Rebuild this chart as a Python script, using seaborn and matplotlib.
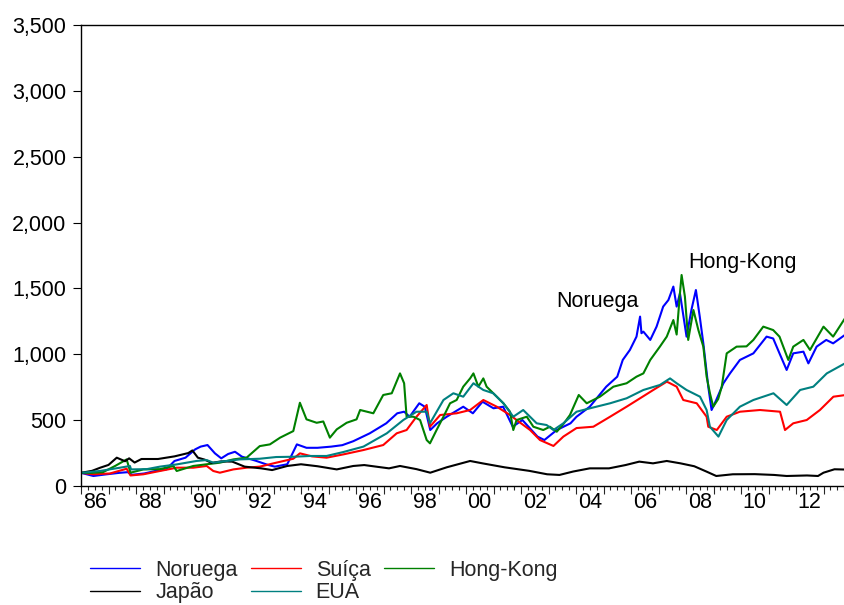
import numpy as np
import pandas as pd
import matplotlib
matplotlib.use("Agg")
import matplotlib.pyplot as plt
from matplotlib.ticker import FixedLocator, FuncFormatter
import seaborn as sns

# Índices de ações (base 100 em jan/1986), valores em pontos-chave no tempo
noruega_t = [1986.0, 1986.45, 1986.9, 1987.4, 1987.7, 1987.85, 1988.3, 1988.7, 1989.1, 1989.4,
             1989.8, 1990.15, 1990.35, 1990.6, 1990.87, 1991.1, 1991.35, 1991.6, 1991.85, 1992.35,
             1992.8, 1993.05, 1993.5, 1993.85, 1994.2, 1994.6, 1995.1, 1995.5, 1995.9, 1996.5,
             1997.1, 1997.5, 1997.75, 1997.95, 1998.3, 1998.5, 1998.7, 1998.95, 1999.3, 1999.9,
             2000.25, 2000.6, 2001.0, 2001.35, 2001.7, 2002.05, 2002.6, 2002.85, 2003.3, 2003.8,
             2004.02, 2004.5, 2005.1, 2005.5, 2005.7, 2005.96, 2006.2, 2006.33, 2006.38, 2006.45,
             2006.7, 2006.93, 2007.17, 2007.36, 2007.54, 2007.66, 2007.78, 2008.02, 2008.2, 2008.36,
             2008.5, 2008.63, 2008.81, 2008.93, 2009.1, 2009.36, 2009.6, 2009.96, 2010.45, 2010.93,
             2011.17, 2011.4, 2011.66, 2011.9, 2012.27, 2012.45, 2012.75, 2013.1, 2013.35, 2013.78]
noruega_v = [100, 76, 88, 100, 105, 85, 95, 114, 126, 190,
             215, 278, 299, 311, 248, 210, 243, 260, 223, 192,
             160, 147, 165, 316, 290, 290, 299, 310, 340, 400,
             476, 552, 564, 526, 628, 602, 425, 476, 526, 602,
             552, 640, 590, 602, 450, 501, 375, 349, 425, 476,
             526, 602, 754, 830, 957, 1033, 1134, 1286, 1160, 1172,
             1109, 1210, 1362, 1412, 1514, 1362, 1463, 1134, 1340, 1488,
             1286, 1083, 754, 577, 653, 780, 855, 957, 1007, 1134,
             1120, 1007, 881, 1007, 1020, 931, 1058, 1109, 1083, 1147]

suica_t = [1986.0, 1986.45, 1987.05, 1987.66, 1987.8, 1988.27, 1988.87, 1989.48, 1990.08, 1990.57,
           1990.81, 1991.05, 1991.54, 1992.02, 1992.5, 1993.1, 1993.72, 1993.96, 1994.4, 1994.93,
           1995.54, 1996.27, 1996.99, 1997.48, 1997.84, 1998.2, 1998.57, 1998.69, 1999.06, 1999.66,
           2000.15, 2000.63, 2001.12, 2001.6, 2001.84, 2002.33, 2002.69, 2003.18, 2003.54, 2004.02,
           2004.63, 2005.24, 2005.84, 2006.33, 2006.81, 2007.3, 2007.42, 2007.66, 2007.9, 2008.39,
           2008.75, 2008.81, 2009.12, 2009.48, 2009.96, 2010.69, 2011.42, 2011.6, 2011.9, 2012.39,
           2012.87, 2013.36, 2013.78]
suica_v = [100, 89, 95, 131, 80, 89, 114, 139, 139, 152,
           114, 101, 126, 139, 147, 177, 207, 248, 225, 215,
           240, 273, 311, 400, 425, 526, 615, 450, 539, 552,
           577, 653, 602, 539, 501, 425, 349, 304, 375, 440,
           450, 526, 602, 666, 729, 792, 780, 754, 653, 628,
           526, 450, 425, 526, 564, 577, 564, 425, 476, 501,
           577, 678, 690]

hongkong_t = [1986.0, 1986.4, 1986.8, 1987.24, 1987.66, 1987.8, 1988.27, 1988.87, 1989.36, 1989.48,
              1990.08, 1990.57, 1991.05, 1991.54, 1992.02, 1992.5, 1992.87, 1993.24, 1993.72, 1993.96,
              1994.2, 1994.57, 1994.81, 1995.05, 1995.3, 1995.66, 1996.02, 1996.15, 1996.63, 1996.99,
              1997.3, 1997.6, 1997.75, 1997.84, 1998.09, 1998.33, 1998.57, 1998.69, 1998.93, 1999.18,
              1999.42, 1999.66, 1999.9, 2000.15, 2000.27, 2000.45, 2000.63, 2000.75, 2001.12, 2001.36,
              2001.6, 2001.72, 2001.84, 2002.21, 2002.45, 2002.81, 2003.05, 2003.3, 2003.54, 2003.78,
              2004.1, 2004.39, 2004.87, 2005.36, 2005.84, 2006.2, 2006.45, 2006.7, 2007.05, 2007.3,
              2007.54, 2007.66, 2007.78, 2007.84, 2007.96, 2008.08, 2008.27, 2008.45, 2008.63, 2008.75,
              2008.87, 2008.99, 2009.17, 2009.3, 2009.48, 2009.84, 2010.2, 2010.45, 2010.81, 2011.17,
              2011.4, 2011.72, 2011.9, 2012.27, 2012.51, 2013.0, 2013.35, 2013.78]
hongkong_v = [100, 100, 105, 152, 202, 101, 126, 128, 152, 114,
              152, 165, 177, 202, 215, 303, 316, 367, 417, 632,
              506, 480, 490, 367, 430, 480, 506, 577, 552, 691,
              704, 855, 780, 526, 526, 501, 349, 324, 425, 526,
              628, 653, 754, 817, 855, 754, 817, 754, 678, 628,
              564, 425, 501, 526, 450, 425, 450, 412, 470, 539,
              691, 628, 678, 754, 780, 830, 855, 957, 1058, 1134,
              1260, 1150, 1463, 1602, 1438, 1109, 1336, 1184, 1058, 830,
              704, 602, 660, 754, 1007, 1058, 1060, 1109, 1210, 1184,
              1134, 957, 1058, 1109, 1033, 1210, 1134, 1273]

japao_t = [1986.0, 1986.4, 1986.7, 1987.0, 1987.3, 1987.6, 1987.75, 1987.95, 1988.2, 1988.8,
           1989.4, 1989.9, 1990.05, 1990.25, 1990.5, 1990.75, 1991.1, 1991.5, 1991.95, 1992.55,
           1992.95, 1993.5, 1994.0, 1994.6, 1995.3, 1995.9, 1996.3, 1996.8, 1997.2, 1997.6,
           1998.2, 1998.7, 1999.3, 2000.15, 2000.6, 2001.4, 2002.3, 2002.95, 2003.4, 2003.9,
           2004.5, 2005.2, 2005.8, 2006.3, 2006.8, 2007.3, 2007.8, 2008.3, 2008.75, 2009.1,
           2009.7, 2010.5, 2011.2, 2011.66, 2012.4, 2012.8, 2013.0, 2013.4, 2013.78]
japao_v = [100, 115, 139, 160, 215, 188, 210, 178, 205, 205,
           225, 250, 270, 215, 200, 175, 187, 185, 147, 134,
           121, 152, 165, 150, 126, 152, 159, 145, 134, 152,
           128, 101, 142, 190, 172, 142, 115, 89, 84, 110,
           134, 134, 159, 185, 172, 190, 172, 150, 109, 76,
           89, 90, 84, 76, 80, 76, 101, 127, 125]

eua_t = [1986.0, 1986.69, 1987.42, 1987.78, 1987.82, 1988.39, 1988.87, 1989.48, 1990.2, 1990.57,
         1990.81, 1991.3, 1991.78, 1992.5, 1993.1, 1993.72, 1994.33, 1994.93, 1995.54, 1996.27,
         1997.12, 1997.72, 1998.2, 1998.57, 1998.69, 1999.18, 1999.54, 1999.9, 2000.27, 2000.63,
         2000.99, 2001.36, 2001.72, 2002.08, 2002.57, 2002.93, 2003.18, 2003.54, 2004.02, 2004.51,
         2005.24, 2005.84, 2006.45, 2007.05, 2007.42, 2007.66, 2008.02, 2008.51, 2008.75, 2008.87,
         2009.18, 2009.48, 2009.96, 2010.45, 2011.18, 2011.66, 2012.15, 2012.63, 2013.12, 2013.78]
eua_v = [100, 114, 139, 152, 126, 128, 147, 164, 190, 197,
         177, 190, 202, 207, 220, 222, 228, 228, 258, 299,
         400, 501, 564, 564, 476, 653, 704, 678, 780, 729,
         704, 628, 526, 577, 476, 463, 425, 476, 564, 590,
         628, 666, 729, 767, 817, 780, 729, 678, 577, 450,
         375, 501, 602, 653, 704, 615, 729, 754, 855, 931]

series_names = ["Noruega", "Suíça", "Hong-Kong", "Japão", "EUA"]
series_colors = ["#0000FF", "#FF0000", "#008000", "#000000", "#008080"]
y_ticks = [0, 500, 1000, 1500, 2000, 2500, 3000, 3500]
x_labels = ["86", "88", "90", "92", "94", "96", "98", "00", "02", "04", "06", "08", "10", "12"]

frames = []
for name, t, v in zip(series_names,
                      [noruega_t, suica_t, hongkong_t, japao_t, eua_t],
                      [noruega_v, suica_v, hongkong_v, japao_v, eua_v]):
    frames.append(pd.DataFrame({"t": t, "valor": v, "serie": name}))
df = pd.concat(frames, ignore_index=True)
cores = dict(zip(series_names, series_colors))

sns.set_style("ticks")
plt.rcParams["font.family"] = ["Liberation Sans", "DejaVu Sans"]
FS = 15.5

fig = plt.figure(figsize=(8.45, 6.05), dpi=100)
ax = fig.add_axes([81 / 845, 1 - 486 / 605, 1 - 81 / 845, 461 / 605])

sns.lineplot(data=df, x="t", y="valor", hue="serie", hue_order=series_names,
             palette=cores, estimator=None, linewidth=1.5, legend=False, ax=ax)

x_end = 1986 + 764 / 27.5
ax.set_xlim(1986.0, x_end)
ax.set_ylim(0, 3500)
ax.set_xlabel("")
ax.set_ylabel("")

for side in ["left", "bottom", "top"]:
    ax.spines[side].set_visible(True)
    ax.spines[side].set_linewidth(1.0)
    ax.spines[side].set_color("black")
ax.spines["right"].set_visible(False)

ax.yaxis.set_major_locator(FixedLocator(y_ticks))
ax.yaxis.set_major_formatter(FuncFormatter(lambda v, p: f"{int(v):,}"))
ax.tick_params(axis="y", direction="out", length=5.5, width=0.8, pad=5,
               labelsize=FS, colors="black")

ax.xaxis.set_major_locator(FixedLocator(np.arange(1986, 2014, 1)))
ax.xaxis.set_minor_locator(FixedLocator(np.arange(1986, 2013.8, 0.25)))
ax.tick_params(axis="x", which="major", direction="out", length=6, width=0.8,
               labelbottom=False)
ax.tick_params(axis="x", which="minor", direction="out", length=3, width=0.8)

# rótulos dos anos centrados no intervalo de cada ano par
for i, lab in enumerate(x_labels):
    ax.text(1986 + 2 * i + 0.5, -17 / 461, lab, transform=ax.get_xaxis_transform(),
            ha="center", va="center", fontsize=FS, color="black")

ax.text(2003.27, 1397, "Noruega", ha="left", va="center", fontsize=FS, color="black")
ax.text(2008.07, 1700, "Hong-Kong", ha="left", va="center", fontsize=FS, color="black")

order = ["Noruega", "Japão", "Suíça", "EUA", "Hong-Kong"]
handles = [plt.Line2D([], [], color=cores[n], linewidth=1.0) for n in order]
fig.legend(handles, order, loc="upper left", bbox_to_anchor=(90 / 845, 1 - 560 / 605),
           ncol=3, frameon=False, fontsize=FS, handlelength=2.33, handletextpad=0.7,
           columnspacing=0.6, labelspacing=0.05, borderpad=0, borderaxespad=0)

fig.savefig("out.png", dpi=100)
